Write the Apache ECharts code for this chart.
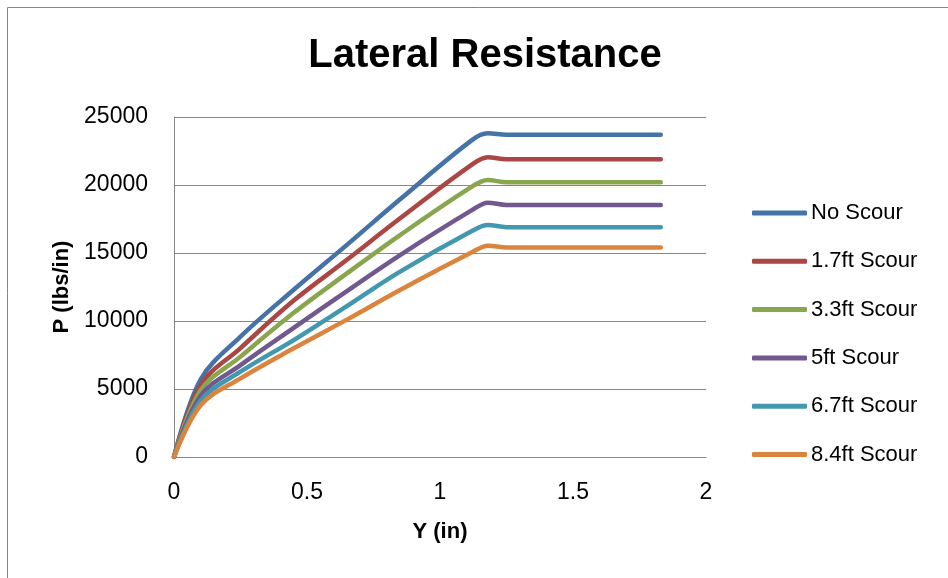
<!DOCTYPE html>
<html>
<head>
<meta charset="utf-8">
<title>Lateral Resistance</title>
<script src="https://cdn.jsdelivr.net/npm/echarts@6/dist/echarts.min.js"></script>
<style>
  html, body { margin: 0; padding: 0; background: #ffffff; }
  #chart { width: 948px; height: 578px; }
</style>
</head>
<body>
<div id="chart"></div>
<script>
// Deflection Y (in) at which each p-y curve is sampled
const deflection = [0, 0.1, 0.25, 0.45, 0.65, 0.85, 1.12, 1.18, 1.25, 1.83];

// Soil resistance P (lbs/in) for each scour depth
const noScour    = [0, 5700, 8850, 12300, 15600, 18950, 23300, 23800, 23700, 23700];
const scour1_7ft = [0, 5300, 8010, 11500, 14500, 17550, 21500, 22040, 21890, 21890];
const scour3_3ft = [0, 4900, 7380, 10600, 13500, 16320, 19880, 20370, 20200, 20200];
const scour5ft   = [0, 4500, 6760,  9500, 12200, 14850, 18150, 18700, 18530, 18530];
const scour6_7ft = [0, 4150, 6270,  8600, 11100, 13630, 16610, 17060, 16900, 16900];
const scour8_4ft = [0, 3800, 5780,  7990, 10100, 12280, 15050, 15540, 15400, 15400];

const seriesNames = ['No Scour', '1.7ft Scour', '3.3ft Scour', '5ft Scour', '6.7ft Scour', '8.4ft Scour'];
const seriesValues = [noScour, scour1_7ft, scour3_3ft, scour5ft, scour6_7ft, scour8_4ft];
const seriesColors = ['#4572A7', '#AA4643', '#89A54E', '#71588F', '#4198AF', '#DB843D'];

const FONT = '"Liberation Sans", Arial, sans-serif';

const chart = echarts.init(document.getElementById('chart'), null, { renderer: 'canvas' });

chart.setOption({
  backgroundColor: '#ffffff',
  animation: false,
  title: {
    text: 'Lateral Resistance',
    left: 485,
    top: 36,
    textAlign: 'center',
    padding: 0,
    textStyle: { fontFamily: FONT, fontSize: 40, fontWeight: 'bold', color: '#000000' }
  },
  graphic: [{
    type: 'rect',
    shape: { x: 7.5, y: 7.5, width: 1000, height: 1000 },
    style: { fill: 'none', stroke: '#868686', lineWidth: 1 },
    silent: true
  }],
  legend: {
    orient: 'vertical',
    left: 752,
    top: 201,
    padding: 0,
    icon: 'roundRect',
    itemWidth: 55,
    itemHeight: 5,
    itemGap: 24.3,
    data: seriesNames,
    textStyle: { fontFamily: FONT, fontSize: 22, color: '#000000', lineHeight: 24, padding: [0, 0, 0, -1] }
  },
  grid: { left: 174, right: 242, top: 117, bottom: 121, containLabel: false },
  xAxis: {
    type: 'value',
    min: 0,
    max: 2,
    interval: 0.5,
    name: 'Y (in)',
    nameLocation: 'middle',
    nameGap: 64,
    nameTextStyle: { fontFamily: FONT, fontSize: 22, fontWeight: 'bold', color: '#000000' },
    axisLine: { show: true, lineStyle: { color: '#868686', width: 1 } },
    axisTick: { show: false },
    splitLine: { show: false },
    axisLabel: { fontFamily: FONT, fontSize: 23, color: '#000000', margin: 24 }
  },
  yAxis: {
    type: 'value',
    min: 0,
    max: 25000,
    interval: 5000,
    name: 'P (lbs/in)',
    nameLocation: 'middle',
    nameGap: 98,
    nameTextStyle: { fontFamily: FONT, fontSize: 22, fontWeight: 'bold', color: '#000000' },
    axisLine: { show: true, lineStyle: { color: '#868686', width: 1 } },
    axisTick: { show: false },
    splitLine: { show: true, lineStyle: { color: '#868686', width: 1 } },
    axisLabel: {
      fontFamily: FONT, fontSize: 23, color: '#000000', margin: 26,
      formatter: (v) => String(v)
    }
  },
  series: seriesNames.map((name, i) => ({
    name: name,
    type: 'line',
    smooth: 0.35,
    symbol: 'none',
    color: seriesColors[i],
    lineStyle: { width: 4.5, cap: 'round', join: 'round', color: seriesColors[i] },
    data: deflection.map((x, j) => [x, seriesValues[i][j]])
  }))
});
</script>
</body>
</html>
